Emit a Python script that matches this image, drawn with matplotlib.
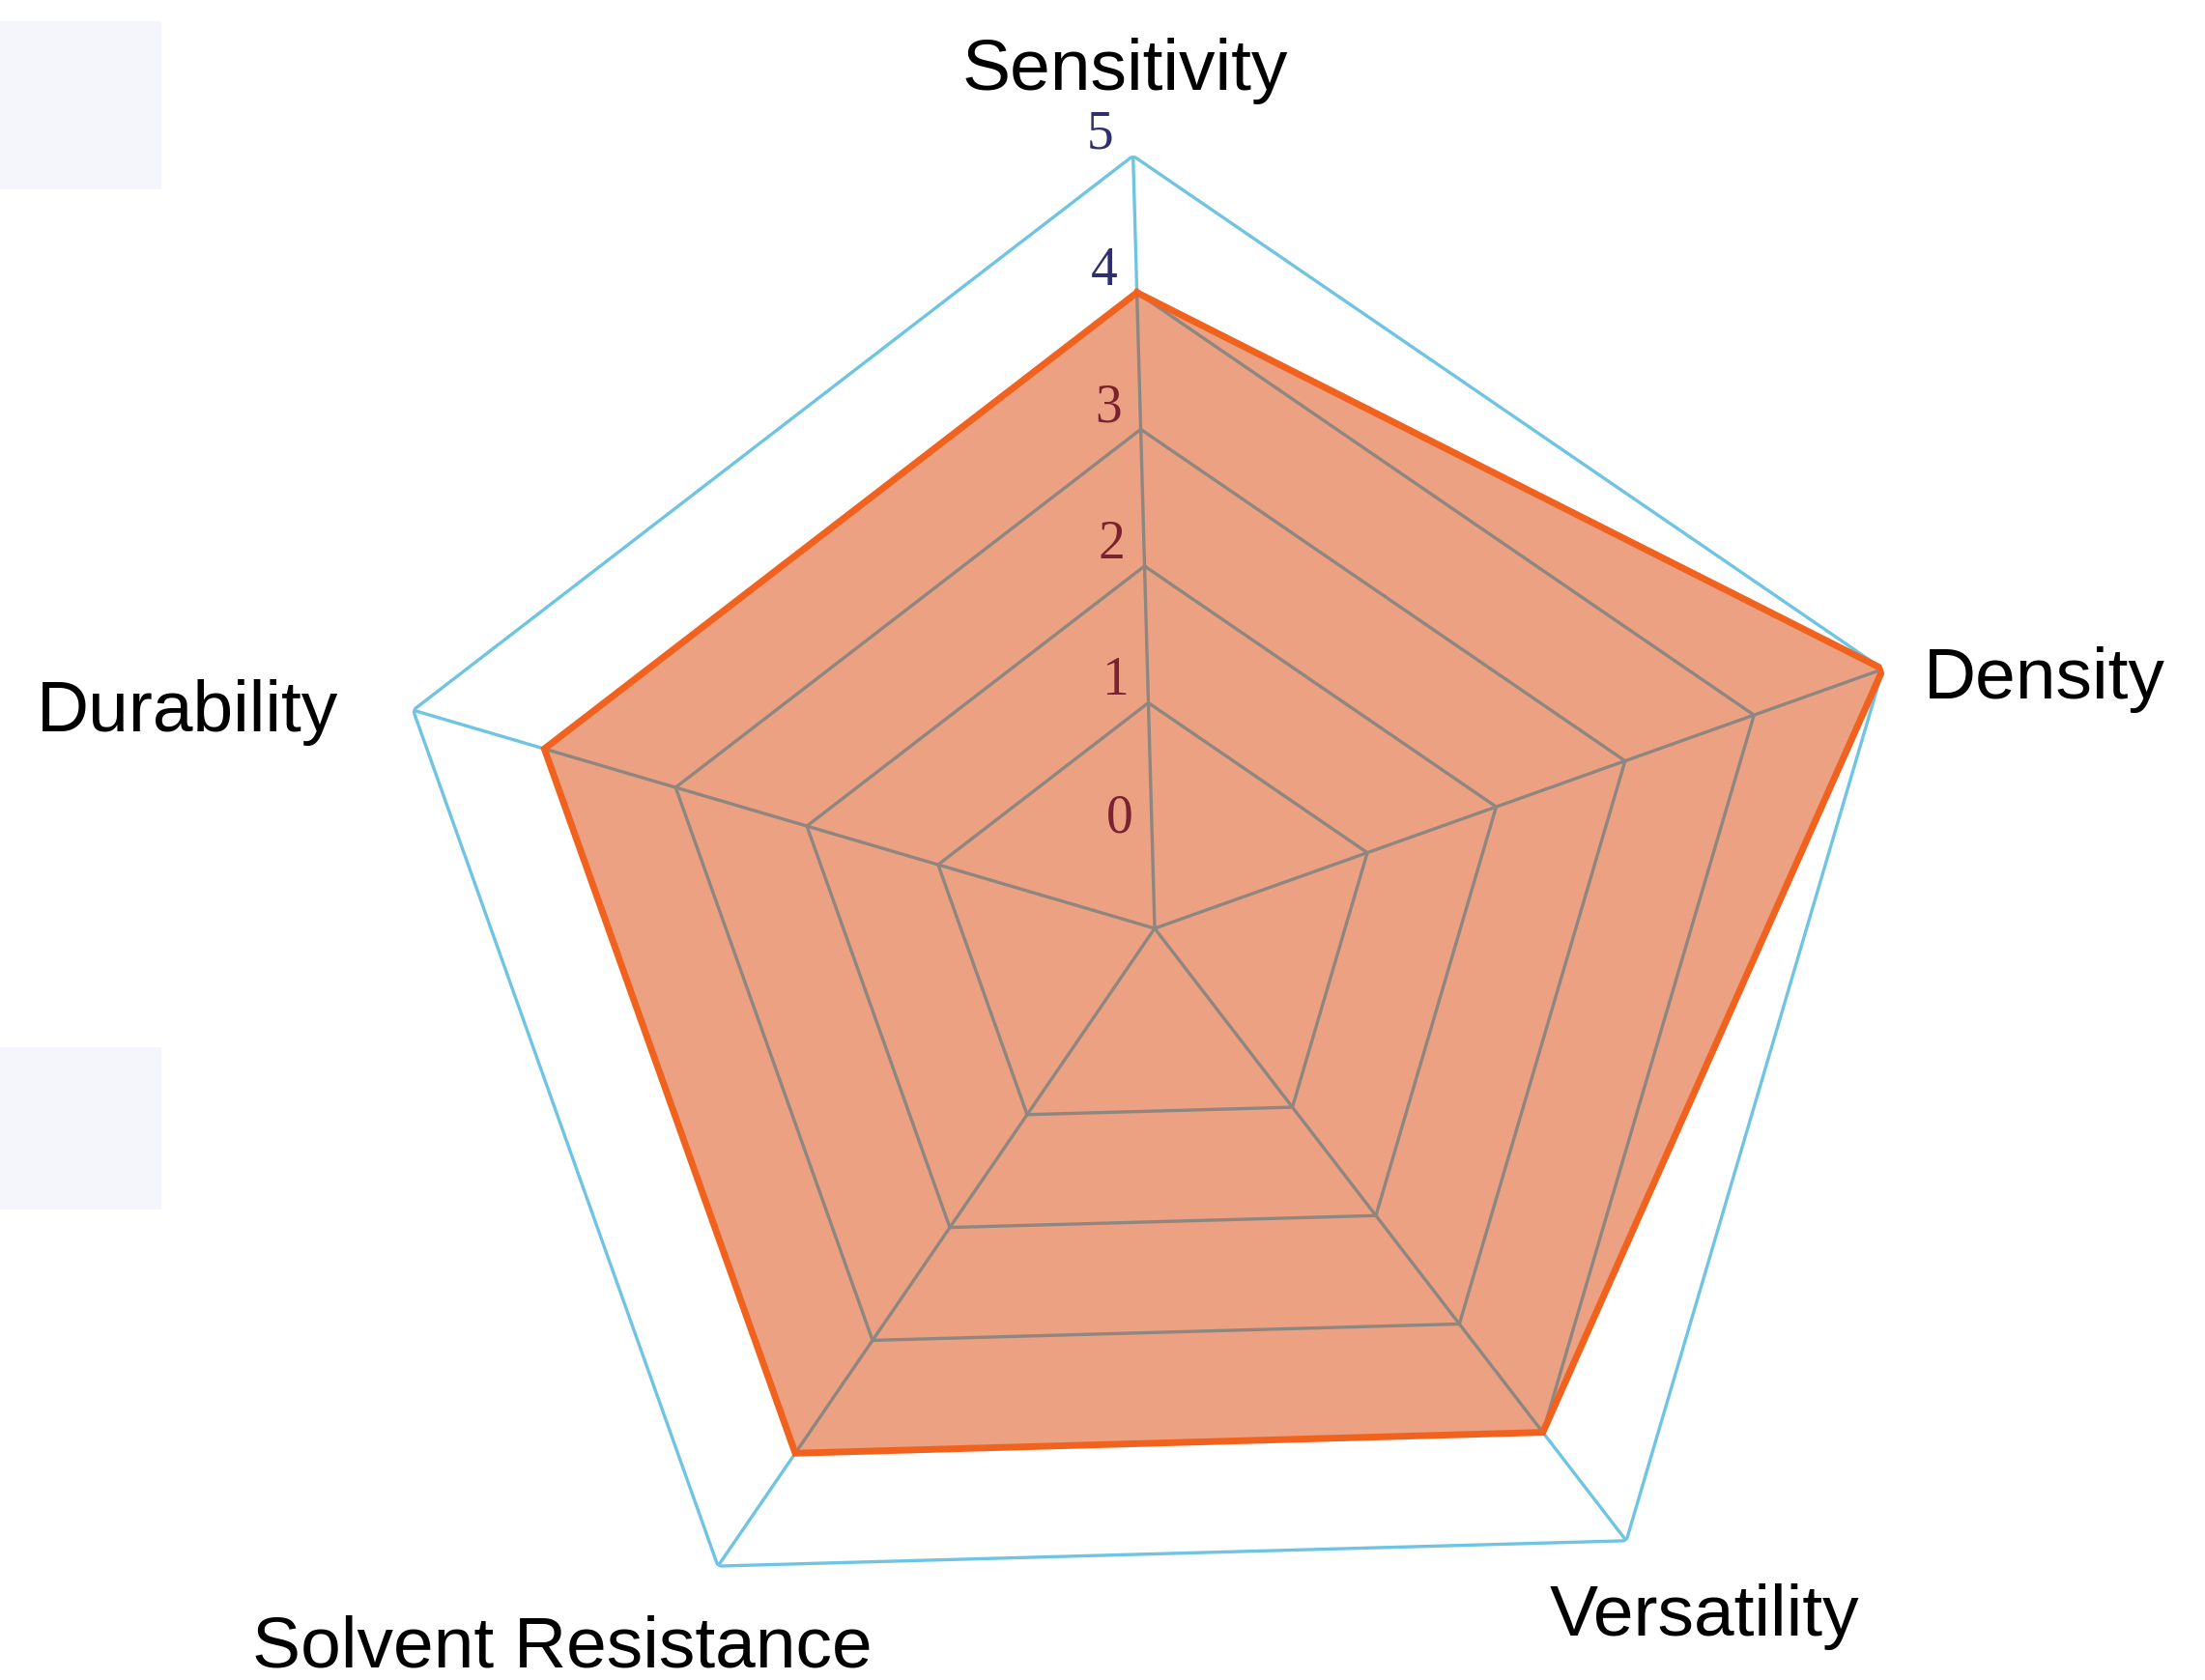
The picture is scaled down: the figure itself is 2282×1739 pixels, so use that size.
import numpy as np
import matplotlib
matplotlib.use("Agg")
import matplotlib.pyplot as plt
from matplotlib.patches import Rectangle

# ---- data ----
categories = ["Sensitivity", "Density", "Versatility", "Solvent Resistance", "Durability"]
values = [4, 5, 4, 4, 4]
levels = [1, 2, 3, 4, 5]
tick_labels = ["0", "1", "2", "3", "4", "5"]
tick_values = [0, 1, 2, 3, 4, 5]

# ---- style ----
FILL = "#EBA182"
EDGE = "#F2621F"
GRID = "#8E8680"
BLUE = "#6EC4E2"
RMIN = -0.65

W, H = 2282, 1739
fig = plt.figure(figsize=(W / 100, H / 100), dpi=100)
fig.patch.set_facecolor("white")

# faint background artifacts on left
for (x0, y0, x1, y1) in [(0, 22, 167, 196), (0, 1084, 167, 1252)]:
    fig.patches.append(Rectangle((x0 / W, 1 - y1 / H), (x1 - x0) / W, (y1 - y0) / H,
                                 transform=fig.transFigure, facecolor="#F5F6FB",
                                 edgecolor="none", zorder=0))

cx, cy, R = 1195, 961, 800
ax = fig.add_axes([(cx - R) / W, (H - cy - R) / H, 2 * R / W, 2 * R / H], projection="polar")
ax.set_theta_offset(np.pi / 2 + np.deg2rad(1.6))
ax.set_theta_direction(-1)
ax.set_ylim(RMIN, 5)
ax.grid(False)
ax.set_xticks([])
ax.set_yticks([])
ax.spines["polar"].set_visible(False)
ax.patch.set_alpha(0)

n = len(categories)
angles = np.linspace(0, 2 * np.pi, n, endpoint=False)
ang_closed = np.concatenate([angles, angles[:1]])

# data fill
vals_closed = np.array(values + values[:1], dtype=float)
ax.fill(ang_closed, vals_closed, color=FILL, zorder=2, linewidth=0)

# rings
for lv in levels:
    r = np.full(len(ang_closed), lv, dtype=float)
    if lv == 5:
        ax.plot(ang_closed, r, color=BLUE, lw=2.4, zorder=3)
    else:
        ax.plot(ang_closed, r, color=GRID, lw=2.4, zorder=3)

# spokes
for a, v in zip(angles, values):
    ax.plot([a, a], [RMIN, v], color=GRID, lw=2.4, zorder=3)
    if v < 5:
        ax.plot([a, a], [v, 5], color=BLUE, lw=2.4, zorder=3)

# data edge
ax.plot(ang_closed, vals_closed, color=EDGE, lw=5, zorder=5, solid_joinstyle="miter")

# radial tick labels
for tv, tl in zip(tick_values, tick_labels):
    col = "#2F2F6E" if tv >= 4 else "#7A2230"
    ax.annotate(tl, xy=(0, tv), xytext=(-34, 22), textcoords="offset pixels",
                ha="center", va="center", fontsize=40, color=col,
                family="Liberation Serif", zorder=6)

# axis labels
lab_pos = [(1164, 73, "center"), (1991, 703, "left"), (1764, 1674, "center"),
           (582, 1706, "center"), (194, 738, "center")]
for name, (x, y, ha) in zip(categories, lab_pos):
    fig.text(x / W, 1 - y / H, name, ha=ha, va="center", fontsize=54,
             family="Liberation Sans", color="black")

fig.savefig("out.png", dpi=100)
